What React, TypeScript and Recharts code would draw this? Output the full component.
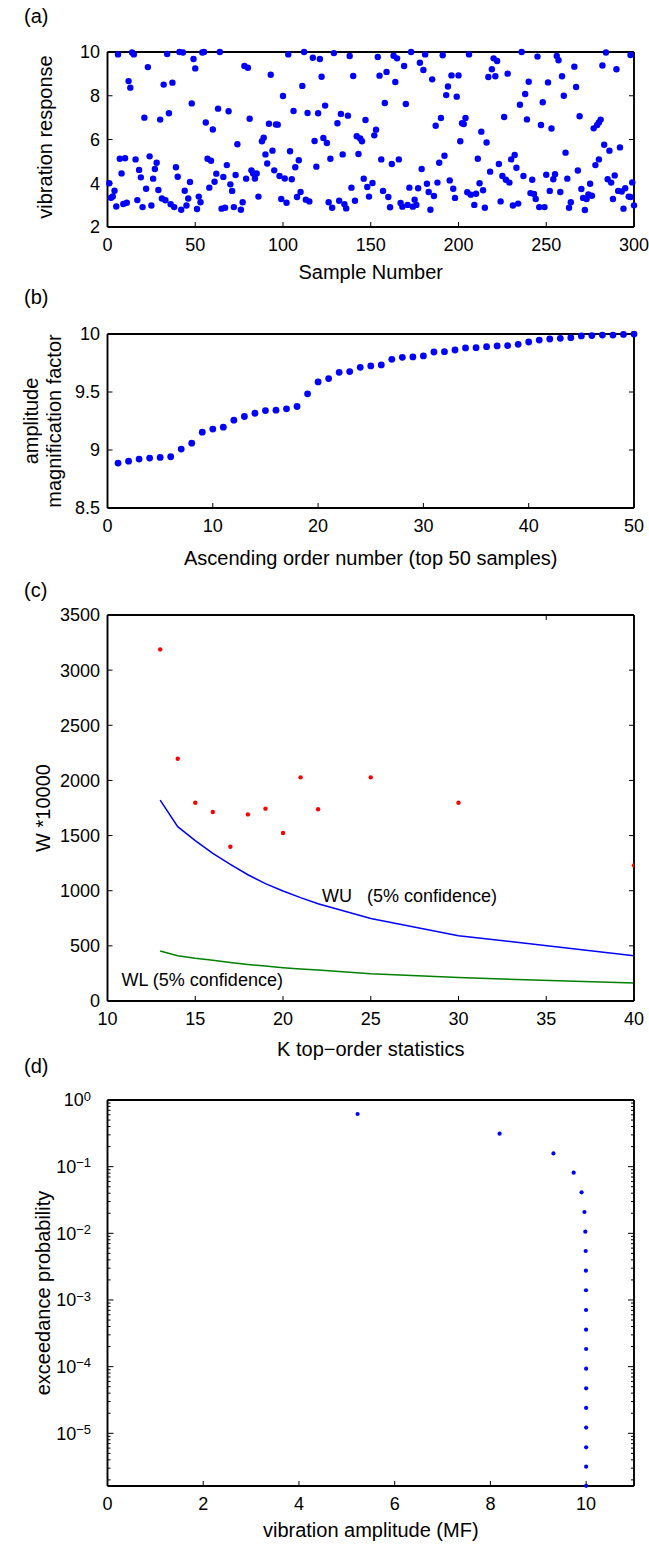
import React from 'react';
import { ScatterChart, ComposedChart, Scatter, Line, XAxis, YAxis } from 'recharts';

const FONT = '"Liberation Sans", Arial, Helvetica, sans-serif';

// ---------- (a) vibration response of 300 samples ----------
const sampleNumbers = [
  1, 2, 3, 4, 5, 6, 7, 8, 9, 10, 11, 12, 13, 14, 15, 16, 17, 18, 19, 20,
  21, 22, 23, 24, 25, 26, 27, 28, 29, 30, 31, 32, 33, 34, 35, 36, 37, 38, 39, 40,
  41, 42, 43, 44, 45, 46, 47, 48, 49, 50, 51, 52, 53, 54, 55, 56, 57, 58, 59, 60,
  61, 62, 63, 64, 65, 66, 67, 68, 69, 70, 71, 72, 73, 74, 76, 77, 78, 79, 80, 81,
  82, 83, 84, 85, 86, 88, 89, 90, 91, 92, 93, 94, 95, 96, 97, 98, 99, 100, 101, 102,
  103, 104, 105, 106, 107, 108, 109, 110, 111, 112, 113, 114, 115, 117, 118, 119, 120,
  121, 122, 123, 124, 125, 126, 127, 128, 129, 131, 132, 133, 134, 135, 136, 137, 138, 139, 140, 141,
  142, 143, 144, 145, 146, 147, 148, 149, 151, 152, 153, 154, 155, 156, 157, 158, 159, 160, 161, 162,
  163, 164, 165, 166, 167, 168, 169, 170, 171, 172, 173, 174, 175, 176, 177, 178, 179, 180,
  181, 182, 183, 184, 185, 186, 187, 188, 189, 190, 191, 192, 193, 194, 195, 196, 197, 198, 199, 200,
  201, 202, 203, 204, 205, 206, 207, 209, 210, 211, 212, 213, 214, 215, 216, 217, 218, 219, 220, 221,
  222, 223, 224, 225, 226, 227, 228, 229, 230, 231, 232, 233, 234, 235, 236, 237, 238, 239, 240,
  241, 242, 243, 244, 245, 246, 247, 248, 249, 250, 251, 252, 253, 254, 255, 256, 257, 258, 259, 260,
  261, 262, 263, 264, 266, 267, 268, 269, 270, 271, 272, 273, 274, 275, 276, 277, 278, 279, 280, 280,
  281, 282, 283, 284, 285, 286, 287, 288, 289, 290, 291, 292, 293, 294, 295, 297, 298, 298, 299, 300,
];
const vibrationResponse = [
  4.0, 3.34, 3.4, 3.66, 2.94, 9.89, 5.12, 4.45, 3.05, 5.14, 3.11, 8.67, 8.37, 9.98, 9.89, 5.09, 3.23, 4.61, 4.27, 2.91,
  7.0, 3.75, 9.31, 5.23, 2.98, 4.21, 4.65, 4.94, 3.69, 6.91, 3.3, 8.51, 3.22, 9.91, 7.2, 3.04, 8.6, 2.91, 4.73, 4.3,
  10.0, 2.79, 9.98, 3.66, 2.98, 3.3, 4.06, 7.65, 9.68, 9.25, 2.82, 3.39, 3.13, 9.98, 10.0, 6.78, 5.12, 3.8, 5.03, 6.46,
  4.07, 4.44, 7.41, 10.0, 2.84, 4.29, 2.88, 4.83, 7.29, 3.95, 3.65, 2.91, 4.38, 5.78, 2.79, 3.13, 9.36, 4.21, 9.28, 6.95,
  4.59, 4.45, 4.22, 4.45, 3.39, 5.92, 6.08, 5.32, 4.9, 6.72, 8.96, 5.49, 4.59, 6.69, 6.68, 4.33, 3.28, 7.99, 4.22, 3.11,
  9.89, 5.46, 4.18, 7.3, 4.73, 3.37, 5.05, 3.6, 8.45, 10.0, 3.25, 7.21, 3.17, 9.74, 5.93, 4.76, 7.2,
  9.68, 8.87, 6.07, 7.55, 5.84, 3.13, 5.12, 2.88, 9.95, 6.74, 3.2, 7.17, 5.32, 3.04, 2.85, 7.09, 9.82, 3.8, 8.9, 3.2,
  6.15, 5.34, 6.05, 5.92, 4.21, 6.89, 3.83, 3.39, 4.01, 6.19, 6.45, 9.77, 8.92, 5.09, 3.65, 7.67, 9.09, 3.37, 2.9, 4.88,
  9.83, 8.63, 9.71, 5.09, 3.1, 2.93, 9.36, 7.62, 3.01, 3.8, 10.0, 2.93, 3.25, 3.01, 3.77, 9.51, 4.65, 9.18,
  9.89, 3.98, 3.6, 2.79, 8.75, 3.42, 6.63, 4.03, 4.94, 6.98, 9.85, 5.26, 8.03, 8.42, 4.13, 8.93, 3.75, 3.33, 7.96, 8.93,
  5.92, 6.74, 6.71, 6.98, 3.59, 9.89, 3.48, 3.01, 3.52, 5.12, 4.0, 6.36, 3.68, 2.88, 5.86, 8.86, 4.53, 9.21, 9.71, 8.89,
  9.59, 4.88, 3.17, 4.33, 7.03, 4.16, 9.01, 4.03, 5.09, 2.98, 5.29, 4.71, 3.07, 7.59, 10.0, 4.33, 8.08, 6.92, 8.64,
  3.55, 4.16, 3.51, 3.28, 9.79, 2.91, 6.66, 7.7, 2.91, 4.39, 8.61, 3.65, 6.5, 4.18, 4.41, 9.82, 9.62, 3.6, 8.89, 8.0,
  5.4, 4.21, 2.88, 3.13, 9.33, 8.4, 4.58, 7.06, 3.74, 3.33, 2.78, 3.28, 3.49, 3.98, 3.43, 6.51, 4.83, 6.66, 6.78, 5.09,
  6.91, 9.38, 5.76, 9.98, 4.18, 5.49, 4.03, 3.28, 4.36, 9.21, 3.65, 5.64, 3.62, 2.84, 3.77, 3.39, 3.37, 9.86, 4.04, 2.99,
];
const sampleTicks = [0, 50, 100, 150, 200, 250, 300];
const responseTicks = [2, 4, 6, 8, 10];

// ---------- (b) top 50 samples in ascending order ----------
const orderNumbers = [
  1, 2, 3, 4, 5, 6, 7, 8, 9, 10, 11, 12, 13, 14, 15, 16, 17, 18, 19, 20, 21, 22, 23, 24, 25,
  26, 27, 28, 29, 30, 31, 32, 33, 34, 35, 36, 37, 38, 39, 40, 41, 42, 43, 44, 45, 46, 47, 48, 49, 50,
];
const magnificationFactor = [
  8.887, 8.904, 8.922, 8.93, 8.936, 8.942, 9.008, 9.059, 9.154, 9.18, 9.197, 9.257, 9.289, 9.317, 9.34,
  9.343, 9.355, 9.375, 9.484, 9.587, 9.616, 9.67, 9.676, 9.713, 9.725, 9.733, 9.782, 9.799, 9.802, 9.811,
  9.845, 9.848, 9.862, 9.88, 9.882, 9.891, 9.897, 9.9, 9.911, 9.931, 9.948, 9.957, 9.963, 9.968, 9.983,
  9.986, 9.991, 9.991, 9.996, 9.999,
];
const orderTicks = [0, 10, 20, 30, 40, 50];
const factorTicks = [8.5, 9, 9.5, 10];

// ---------- (c) K top-order statistics ----------
const kValues = [13, 14, 15, 16, 17, 18, 19, 20, 21, 22, 25, 30, 40];
const wEstimate = [3188, 2197, 1798, 1714, 1399, 1692, 1744, 1523, 2028, 1738, 2028, 1798, 1230];
const wUpper = [1822, 1581, 1454, 1339, 1239, 1145, 1064, 997, 937, 882, 749, 592, 411];
const wLower = [453, 411, 387, 369, 350, 332, 317, 302, 290, 281, 248, 212, 163];
const kTicks = [10, 15, 20, 25, 30, 35, 40];
const wTicks = [0, 500, 1000, 1500, 2000, 2500, 3000, 3500];

// ---------- (d) exceedance probability ----------
const amplitudeMF = [
  5.225, 8.192, 9.317, 9.74, 9.905, 9.965, 9.983, 9.991, 9.995, 9.997,
  9.998, 9.999, 10.0, 10.0, 10.0, 10.0, 10.0, 10.0, 10.0, 10.0,
];
const exceedance = [
  0.617, 0.313, 0.158, 0.0813, 0.0412, 0.0209, 0.0106, 0.00543, 0.00275, 0.0014,
  0.000708, 0.000359, 0.000184, 0.0000933, 0.0000473, 0.000024, 0.0000122, 0.00000617, 0.00000316, 0.00000163,
];
const amplitudeTicks = [0, 2, 4, 6, 8, 10];
const probabilityTicks = [1, 0.1, 0.01, 0.001, 0.0001, 0.00001];
const probabilityDomain = [0.00000162, 1];

// ---------- layout constants ----------
const W = 649;
const PLOT_LEFT = 107.5;
const PLOT_RIGHT = 634;
const YAXIS_W = 60;
const TOP_PAD = 10;
const XAXIS_H = 30;
const BOTTOM_PAD = 10;
const TICK_SIZE = -5;
const X_TICK_MARGIN = 16;
const Y_TICK_MARGIN = 12.5;
const LOG_Y_MARGIN = 21.5;

const AXIS_LINE = { stroke: '#000', strokeWidth: 1.9 };
const TICK_LINE = { stroke: '#000', strokeWidth: 1 };
const TICK_TEXT = { fill: '#000', fontSize: 18, fontFamily: FONT };

const minorLogTicks: number[] = [];
for (let e = -6; e <= -1; e++) {
  for (let m = 2; m <= 9; m++) {
    const v = m * Math.pow(10, e);
    if (v >= probabilityDomain[0] && v <= 1) minorLogTicks.push(v);
  }
}

function isMajor(v: number) {
  const l = Math.log10(v);
  return Math.abs(l - Math.round(l)) < 1e-6;
}

function LogLeftTick(p: any) {
  const v = p.payload.value;
  const axisX = p.x + LOG_Y_MARGIN + TICK_SIZE;
  const major = isMajor(v);
  const exp = Math.round(Math.log10(v));
  return (
    <g>
      <line x1={axisX} x2={axisX + (major ? 6 : 3)} y1={p.y} y2={p.y} stroke="#000" strokeWidth={1} />
      {major && (
        <text x={p.x} y={p.y} textAnchor="end" fill="#000" fontFamily={FONT} fontSize={18}>
          <tspan dy="0.36em">10</tspan>
          <tspan dy="-0.45em" fontSize={13}>{exp === 0 ? '0' : '\u2212' + Math.abs(exp)}</tspan>
        </text>
      )}
    </g>
  );
}

function LogRightTick(p: any) {
  const v = p.payload.value;
  const axisX = p.x + 5;
  const major = isMajor(v);
  return <line x1={axisX} x2={axisX - (major ? 6 : 3)} y1={p.y} y2={p.y} stroke="#000" strokeWidth={1} />;
}

type FrameOpts = {
  xKey: string;
  xDomain: number[];
  xTicks: number[];
  yDomain: number[];
  yTicks: number[];
  yScale?: 'linear' | 'log';
  leftTick?: any;
  rightTick?: any;
  yMargin?: number;
  clip?: boolean;
};

function frameAxes(o: FrameOpts) {
  const yScale = o.yScale || 'linear';
  const clip = o.clip !== false;
  return [
    <XAxis key="xb" xAxisId="b" type="number" dataKey={o.xKey} scale="linear" domain={o.xDomain} ticks={o.xTicks}
      interval={0} allowDataOverflow={clip} tickSize={TICK_SIZE} tickMargin={X_TICK_MARGIN} axisLine={AXIS_LINE}
      tickLine={TICK_LINE} tick={TICK_TEXT} height={XAXIS_H} />,
    <XAxis key="xt" xAxisId="t" orientation="top" type="number" scale="linear" domain={o.xDomain} ticks={o.xTicks}
      interval={0} allowDataOverflow tickSize={TICK_SIZE} tickFormatter={() => ''} axisLine={AXIS_LINE}
      tickLine={TICK_LINE} height={1} />,
    <YAxis key="yl" yAxisId="l" type="number" scale={yScale} domain={o.yDomain} ticks={o.yTicks} interval={0}
      allowDataOverflow={clip} tickSize={TICK_SIZE} tickMargin={o.yMargin ?? Y_TICK_MARGIN} axisLine={AXIS_LINE}
      tickLine={o.leftTick ? false : TICK_LINE} tick={o.leftTick || TICK_TEXT} width={YAXIS_W} />,
    <YAxis key="yr" yAxisId="r" orientation="right" type="number" scale={yScale} domain={o.yDomain} ticks={o.yTicks}
      interval={0} allowDataOverflow tickSize={TICK_SIZE} tickMargin={0} tickFormatter={() => ''}
      axisLine={AXIS_LINE} tickLine={o.rightTick ? false : TICK_LINE} tick={o.rightTick || TICK_TEXT} width={1} />,
  ];
}

function chartBox(plotTop: number, plotBottom: number) {
  return {
    style: { position: 'absolute' as const, left: 0, top: plotTop - TOP_PAD },
    width: W,
    height: plotBottom - plotTop + TOP_PAD + XAXIS_H + BOTTOM_PAD,
    margin: { top: TOP_PAD - 1, right: W - PLOT_RIGHT - 1, bottom: BOTTOM_PAD, left: PLOT_LEFT - YAXIS_W },
  };
}

function dot(r: number, color: string) {
  return (p: any) => <circle cx={p.cx} cy={p.cy} r={r} fill={color} />;
}

const textBase: React.CSSProperties = {
  position: 'absolute', fontFamily: FONT, color: '#000', whiteSpace: 'pre', lineHeight: 1,
};

function Label({ x, y, size = 20, rotate = false, anchor = 'middle', lineHeight, children }: any) {
  const tx = anchor === 'middle' ? '-50%' : '0';
  return (
    <div style={{
      ...textBase, left: x, top: y, fontSize: size, textAlign: 'center',
      lineHeight: lineHeight ? lineHeight + 'px' : 1,
      transform: `translate(${tx},-50%)${rotate ? ' rotate(-90deg)' : ''}`,
    }}>{children}</div>
  );
}

const dataA = sampleNumbers.map((s, i) => ({ x: s, y: vibrationResponse[i] }));
const dataB = orderNumbers.map((s, i) => ({ x: s, y: magnificationFactor[i] }));
const dataC = kValues.map((k, i) => ({ k, w: wEstimate[i], wu: wUpper[i], wl: wLower[i] }));
const dataD = amplitudeMF.map((a, i) => ({ x: a, y: exceedance[i] }));

const P = {
  a: [52, 227],
  b: [334, 508],
  c: [615, 1001],
  d: [1100, 1486],
};
const XC = (PLOT_LEFT + PLOT_RIGHT) / 2;

export default function App() {
  const ba = chartBox(P.a[0], P.a[1]);
  const bb = chartBox(P.b[0], P.b[1]);
  const bc = chartBox(P.c[0], P.c[1]);
  const bd = chartBox(P.d[0], P.d[1]);
  return (
    <div style={{ position: 'absolute', left: 0, top: 0, width: W, height: 1544, background: '#fff', overflow: 'hidden' }}>
      {/* (a) */}
      <div style={ba.style}>
        <ScatterChart width={ba.width} height={ba.height} margin={ba.margin}>
          {frameAxes({ xKey: 'x', xDomain: [0, 300], xTicks: sampleTicks, yDomain: [2, 10], yTicks: responseTicks, clip: false })}
          <Scatter xAxisId="b" yAxisId="l" data={dataA} dataKey="y" shape={dot(3.2, '#0000ff')} isAnimationActive={false} />
        </ScatterChart>
      </div>
      {/* (b) */}
      <div style={bb.style}>
        <ScatterChart width={bb.width} height={bb.height} margin={bb.margin}>
          {frameAxes({ xKey: 'x', xDomain: [0, 50], xTicks: orderTicks, yDomain: [8.5, 10], yTicks: factorTicks, clip: false })}
          <Scatter xAxisId="b" yAxisId="l" data={dataB} dataKey="y" shape={dot(3.4, '#0000ff')} isAnimationActive={false} />
        </ScatterChart>
      </div>
      {/* (c) */}
      <div style={bc.style}>
        <ComposedChart width={bc.width} height={bc.height} margin={bc.margin} data={dataC}>
          {frameAxes({ xKey: 'k', xDomain: [10, 40], xTicks: kTicks, yDomain: [0, 3500], yTicks: wTicks })}
          <Line xAxisId="b" yAxisId="l" type="linear" dataKey="wu" stroke="#0000ff" strokeWidth={1.5} dot={false} isAnimationActive={false} />
          <Line xAxisId="b" yAxisId="l" type="linear" dataKey="wl" stroke="#008000" strokeWidth={1.5} dot={false} isAnimationActive={false} />
          <Scatter xAxisId="b" yAxisId="l" dataKey="w" shape={dot(2.2, '#ff0000')} isAnimationActive={false} />
        </ComposedChart>
      </div>
      {/* (d) */}
      <div style={bd.style}>
        <ScatterChart width={bd.width} height={bd.height} margin={bd.margin}>
          {frameAxes({
            xKey: 'x', xDomain: [0, 11], xTicks: amplitudeTicks, yDomain: probabilityDomain,
            yTicks: [...probabilityTicks, ...minorLogTicks], yScale: 'log',
            leftTick: (p: any) => <LogLeftTick {...p} />, rightTick: (p: any) => <LogRightTick {...p} />,
            yMargin: LOG_Y_MARGIN, clip: false,
          })}
          <Scatter xAxisId="b" yAxisId="l" data={dataD} dataKey="y" shape={dot(2.1, '#0000ff')} isAnimationActive={false} />
        </ScatterChart>
      </div>

      {/* panel letters */}
      <Label x={24} y={16} anchor="start">(a)</Label>
      <Label x={24} y={297} anchor="start">(b)</Label>
      <Label x={24} y={590} anchor="start">(c)</Label>
      <Label x={24} y={1066} anchor="start">(d)</Label>

      {/* axis titles */}
      <Label x={45} y={137} rotate>vibration response</Label>
      <Label x={XC} y={272}>Sample Number</Label>

      <Label x={43} y={421} rotate lineHeight={23}>{'amplitude\nmagnification factor'}</Label>
      <Label x={XC} y={558}>Ascending order number (top 50 samples)</Label>

      <Label x={43} y={808} rotate>W *10000</Label>
      <Label x={XC} y={1049}>K top−order statistics</Label>
      <Label x={322} y={896} anchor="start" size={18}>{'WU   (5% confidence)'}</Label>
      <Label x={121.5} y={980} anchor="start" size={18}>WL (5% confidence)</Label>

      <Label x={43} y={1293} rotate>exceedance probability</Label>
      <Label x={XC} y={1530}>vibration amplitude (MF)</Label>
    </div>
  );
}
